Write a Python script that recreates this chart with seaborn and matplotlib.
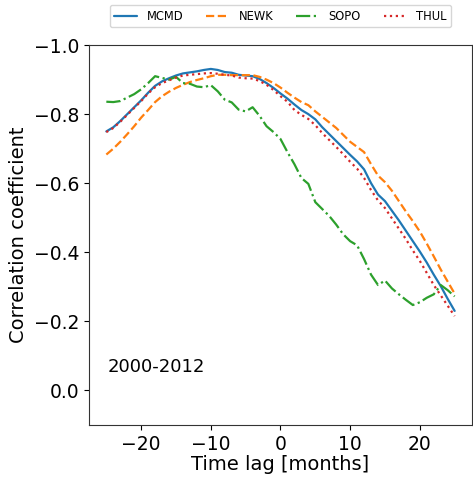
import numpy as np
import pandas as pd
import matplotlib
matplotlib.use('Agg')
import matplotlib.pyplot as plt
import seaborn as sns

# time lags in months
lags = list(range(-25, 26))

mcmd = [-0.750, -0.762, -0.780, -0.800, -0.820, -0.840, -0.862, -0.882, -0.895, -0.904,
        -0.912, -0.918, -0.921, -0.924, -0.928, -0.931, -0.928, -0.922, -0.920, -0.914,
        -0.912, -0.910, -0.902, -0.890, -0.876, -0.860, -0.845, -0.828, -0.812, -0.800,
        -0.785, -0.762, -0.742, -0.722, -0.702, -0.682, -0.663, -0.640, -0.600, -0.567,
        -0.548, -0.520, -0.492, -0.462, -0.432, -0.402, -0.370, -0.335, -0.302, -0.265,
        -0.230]

newk = [-0.683, -0.700, -0.720, -0.742, -0.765, -0.790, -0.812, -0.835, -0.852, -0.865,
        -0.876, -0.885, -0.893, -0.899, -0.904, -0.910, -0.914, -0.914, -0.913, -0.913,
        -0.913, -0.913, -0.908, -0.900, -0.890, -0.877, -0.862, -0.848, -0.835, -0.826,
        -0.808, -0.792, -0.776, -0.760, -0.740, -0.720, -0.705, -0.690, -0.655, -0.622,
        -0.603, -0.578, -0.548, -0.518, -0.490, -0.460, -0.425, -0.388, -0.350, -0.315,
        -0.280]

sopo = [-0.836, -0.835, -0.838, -0.848, -0.858, -0.872, -0.890, -0.910, -0.905, -0.900,
        -0.908, -0.890, -0.888, -0.880, -0.878, -0.884, -0.866, -0.842, -0.834, -0.813,
        -0.808, -0.820, -0.795, -0.765, -0.748, -0.728, -0.690, -0.655, -0.615, -0.598,
        -0.545, -0.525, -0.505, -0.480, -0.452, -0.432, -0.420, -0.380, -0.335, -0.305,
        -0.318, -0.295, -0.278, -0.262, -0.247, -0.255, -0.268, -0.278, -0.305, -0.290,
        -0.272]

thul = [-0.748, -0.760, -0.778, -0.798, -0.818, -0.838, -0.860, -0.878, -0.890, -0.898,
        -0.906, -0.912, -0.914, -0.916, -0.918, -0.919, -0.917, -0.914, -0.912, -0.906,
        -0.904, -0.903, -0.896, -0.885, -0.870, -0.852, -0.836, -0.812, -0.798, -0.786,
        -0.768, -0.745, -0.725, -0.705, -0.684, -0.662, -0.642, -0.615, -0.580, -0.550,
        -0.528, -0.498, -0.468, -0.438, -0.405, -0.375, -0.340, -0.305, -0.275, -0.245,
        -0.215]

stations = ['MCMD', 'NEWK', 'SOPO', 'THUL']
series = [mcmd, newk, sopo, thul]
colors = ['#1f77b4', '#ff7f0e', '#2ca02c', '#d62728']
styles = ['-', '--', '-.', ':']

sns.set_style('ticks', {'text.color': 'black', 'axes.labelcolor': 'black',
                        'xtick.color': 'black', 'ytick.color': 'black',
                        'axes.edgecolor': '#333333'})

fig = plt.figure(figsize=(4.73, 4.8), dpi=100)
ax = fig.add_axes([0.188, 0.115, 0.81, 0.791])

for name, vals, c, ls in zip(stations, series, colors, styles):
    df = pd.DataFrame({'lag': lags, 'corr': vals})
    sns.lineplot(data=df, x='lag', y='corr', ax=ax, color=c, linestyle=ls,
                 linewidth=1.6, label=name)

ax.set_ylim(0.1, -1.0)
ax.set_yticks([0.0, -0.2, -0.4, -0.6, -0.8, -1.0])
ax.set_xticks([-20, -10, 0, 10, 20])
ax.tick_params(labelsize=13.5)
ax.set_xlabel('Time lag [months]', fontsize=14, labelpad=1)
ax.set_ylabel('Correlation coefficient', fontsize=14)
ax.text(0.05, 0.151, '2000-2012', transform=ax.transAxes, fontsize=13,
        va='center', ha='left')

ax.legend(loc='lower center', bbox_to_anchor=(0.5, 1.032), ncol=4, fontsize=8.3,
          frameon=True, columnspacing=2.0)

fig.savefig('out.png', dpi=100)
